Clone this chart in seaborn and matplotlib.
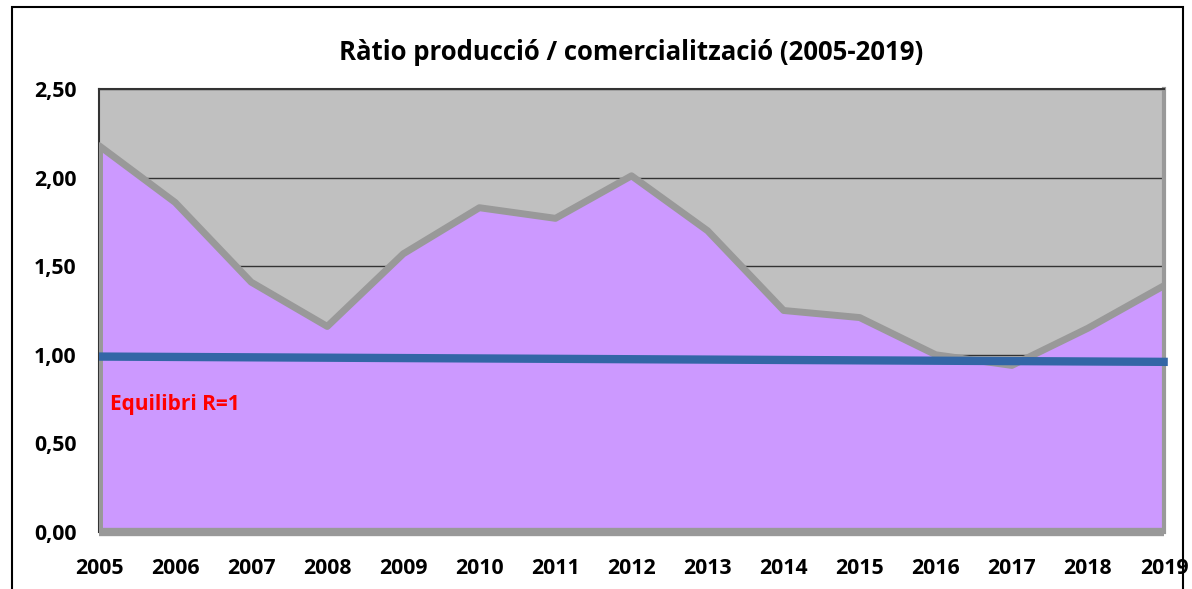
import matplotlib
matplotlib.use("Agg")
import matplotlib.pyplot as plt
import seaborn as sns
import pandas as pd
from matplotlib import font_manager as fm
from matplotlib.patches import Rectangle

# Data
years = list(range(2005, 2020))
ratio = [2.18, 1.86, 1.41, 1.16, 1.57, 1.83, 1.77, 2.01, 1.70, 1.25, 1.21, 1.00, 0.94, 1.15, 1.39]
equilibri_start = 0.99
equilibri_end = 0.96
y_ticks = [0.0, 0.5, 1.0, 1.5, 2.0, 2.5]


def bold_font_file():
    # want a normal-width bold face (not condensed)
    for fam in ['Open Sans', 'Noto Sans', 'Liberation Sans']:
        best = None
        for f in fm.fontManager.ttflist:
            low = f.fname.lower()
            if f.name != fam or f.style != 'normal' or 'condensed' in low or 'semi' in low:
                continue
            w = f.weight if isinstance(f.weight, int) else fm.weight_dict.get(f.weight, 400)
            if w == 700 and 'bold' in low:
                best = f.fname
        if best:
            return best
    return None


sns.set_theme(style="white")
plt.rcParams['font.family'] = ['Open Sans', 'DejaVu Sans']
plt.rcParams['text.color'] = 'black'
plt.rcParams['xtick.color'] = 'black'
plt.rcParams['ytick.color'] = 'black'
bold_file = bold_font_file()


def fp(size):
    if bold_file:
        return fm.FontProperties(fname=bold_file, size=size)
    return fm.FontProperties(family='DejaVu Sans', weight='bold', size=size)


df = pd.DataFrame({'Any': years, 'Ratio': ratio})
eq = pd.DataFrame({'Any': [years[0], years[-1] + 0.05],
                   'Ratio': [equilibri_start, equilibri_end]})

fig = plt.figure(figsize=(11.92, 5.89), dpi=100)
ax = fig.add_axes([0.0831, 0.0968, 0.8934, 0.7521])
ax.set_facecolor('#C0C0C0')

# grid under the area
for v in y_ticks[1:]:
    ax.axhline(v, color='#333333', linewidth=1, zorder=1)

ax.fill_between(df['Any'], 0, df['Ratio'], color='#CC99FF', zorder=2)
sns.lineplot(data=df, x='Any', y='Ratio', color='#999999', linewidth=5, ax=ax, zorder=3)
ax.plot([years[0], years[0]], [0, ratio[0]], color='#999999', linewidth=5, zorder=3,
        solid_capstyle='butt')
ax.plot([years[0], years[-1]], [0, 0], color='#999999', linewidth=6, zorder=3,
        solid_capstyle='butt', clip_on=False)
sns.lineplot(data=eq, x='Any', y='Ratio', color='#3366A6', linewidth=6, ax=ax, zorder=4,
             clip_on=False, solid_capstyle='butt')

ax.text(2005.15, 0.69, 'Equilibri R=1', color='#FF0000', fontproperties=fp(15), zorder=5)

ax.set_xlim(years[0], years[-1])
ax.set_ylim(0, 2.5)
ax.set_xticks(years)
ax.set_xticklabels([str(y) for y in years], fontproperties=fp(15.3), color='black')
ax.set_yticks(y_ticks)
ax.set_yticklabels([f'{v:.2f}'.replace('.', ',') for v in y_ticks], fontproperties=fp(15.3),
                   color='black')
ax.set_xlabel('')
ax.set_ylabel('')
ax.tick_params(axis='y', direction='out', length=10, width=1, color='#333333', pad=6)
ax.tick_params(axis='x', direction='out', length=6, width=1, color='#333333', pad=13)

for side in ['top', 'left']:
    ax.spines[side].set_color('#333333')
    ax.spines[side].set_linewidth(1.5)
ax.spines['right'].set_color('#999999')
ax.spines['right'].set_linewidth(3)
ax.spines['bottom'].set_visible(False)

ax.set_title('Ràtio producció / comercialització (2005-2019)', fontproperties=fp(18.5),
             pad=21, color='black')

fig.patches.append(Rectangle((12 / 1192, -0.01), (1183 - 12) / 1192, (582 / 589) + 0.01,
                             transform=fig.transFigure, fill=False, edgecolor='black',
                             linewidth=1.5))

fig.savefig('out.png', dpi=100)
